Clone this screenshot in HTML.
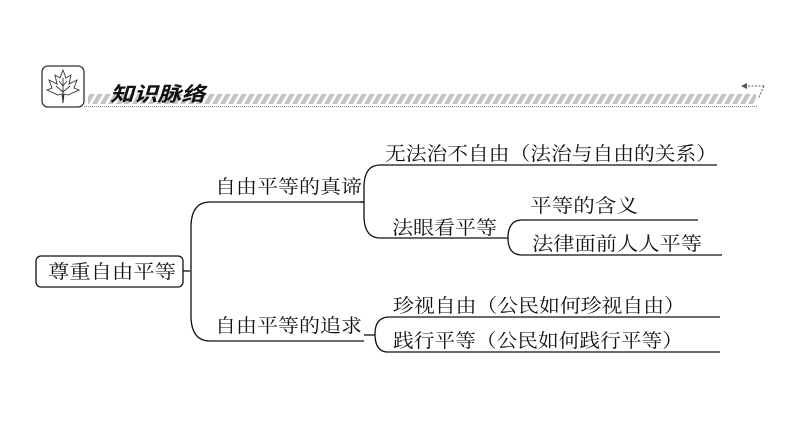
<!DOCTYPE html>
<html><head><meta charset="utf-8"><style>
html,body{margin:0;padding:0;background:#fff;}
svg{display:block;}
text{font-family:"Liberation Serif","Noto Serif CJK SC","Noto Sans CJK SC",serif;fill:#111;}
</style></head><body>
<svg width="794" height="446" viewBox="0 0 794 446" xmlns="http://www.w3.org/2000/svg">
<defs>
<pattern id="st" width="8" height="10" patternUnits="userSpaceOnUse" patternTransform="skewX(-30)">
<rect x="0" y="0" width="5" height="10" fill="#c4c4c4"/>
</pattern>
</defs>
<!-- header -->
<rect x="88" y="94" width="668" height="10" fill="url(#st)"/>
<line x1="84" y1="106.5" x2="758" y2="106.5" stroke="#888" stroke-width="1" stroke-dasharray="1,1"/>
<rect x="42" y="66" width="42" height="41" rx="6" fill="#fff" stroke="#333" stroke-width="1.3"/>
<g fill="none" stroke="#333" stroke-width="0.9">
<path d="M63 70 L66 78 L71 75 L69 84 L77 80 L74 88 L79 90 L68 95 L64 94 L63 103 L62 94 L58 95 L47 90 L52 88 L49 80 L57 84 L55 75 L60 78 Z"/>
<path d="M63 78 L63 103 M63 92 L70 86 M63 92 L56 86 M63 86 L67 81 M63 86 L59 81"/>
</g>
<text x="110" y="101" font-size="20" font-weight="bold" font-style="italic" textLength="95" lengthAdjust="spacingAndGlyphs" style="font-family:'Noto Sans CJK SC',sans-serif">知识脉络</text>
<path d="M764 86 L758 99 M764 86 L744 86" stroke="#555" stroke-width="1" fill="none" stroke-dasharray="2,1.5"/>
<path d="M741 86 L747 83 L747 89 Z" fill="#555"/>
<!-- mindmap lines -->
<g fill="none" stroke="#111" stroke-width="1.3">
<rect x="36" y="256" width="147" height="31" rx="5"/>
<path d="M183 271 L190 271"/>
<path d="M364 202 L210 202 Q192 202 191 225 L191 318 Q192 341 210 341 L364 341"/>
<path d="M360 202 L364 202"/>
<path d="M717 165 L380 165 Q365 165 364 185 L364 218 Q365 238 380 238 L508 238"/>
<path d="M698 220 L522 220 Q509 220 508 236 L508 240 Q509 255 522 255 L722 255"/>
<path d="M720 317 L388 317 Q375 318 375 334 Q375 352 388 352 L720 352"/>
<path d="M364 335 L375 335"/>
</g>
<g font-size="19">
<text x="48" y="278" textLength="128" lengthAdjust="spacingAndGlyphs">尊重自由平等</text>
<text x="215" y="193" textLength="147" lengthAdjust="spacingAndGlyphs">自由平等的真谛</text>
<text x="215" y="332" textLength="147" lengthAdjust="spacingAndGlyphs">自由平等的追求</text>
<text x="385" y="160" textLength="332" lengthAdjust="spacingAndGlyphs">无法治不自由（法治与自由的关系）</text>
<text x="392" y="234" textLength="105" lengthAdjust="spacingAndGlyphs">法眼看平等</text>
<text x="530" y="212" textLength="108" lengthAdjust="spacingAndGlyphs">平等的含义</text>
<text x="532" y="250" textLength="170" lengthAdjust="spacingAndGlyphs">法律面前人人平等</text>
<text x="393" y="312" textLength="292" lengthAdjust="spacingAndGlyphs">珍视自由（公民如何珍视自由）</text>
<text x="393" y="347" textLength="290" lengthAdjust="spacingAndGlyphs">践行平等（公民如何践行平等）</text>
</g>
</svg>
</body></html>
